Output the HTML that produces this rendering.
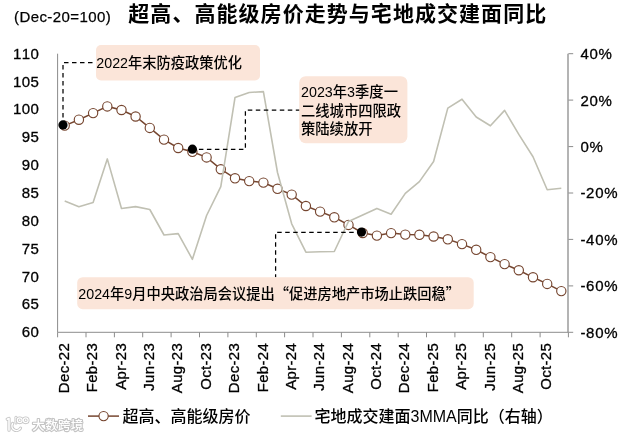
<!DOCTYPE html>
<html><head><meta charset="utf-8"><title>chart</title>
<style>html,body{margin:0;padding:0;background:#fff;}body{width:634px;height:438px;overflow:hidden;}svg{display:block;will-change:transform;}</style>
</head><body>
<svg width="634" height="438" viewBox="0 0 634 438">
<text x="14" y="21.9" font-family="'Liberation Sans', Arial, 'Noto Sans CJK SC', sans-serif" font-size="15" letter-spacing="0.42" fill="#000" stroke="#000" stroke-width="0.25">(Dec-20=100)</text>
<text x="128.3" y="21.1" font-family="'Liberation Sans', 'Noto Sans CJK SC', sans-serif" font-size="21" font-weight="bold" letter-spacing="1.05" fill="#000">超高、高能级房价走势与宅地成交建面同比</text>
<text x="39.2" y="58.6" text-anchor="end" font-family="'Liberation Sans', Arial, 'Noto Sans CJK SC', sans-serif" font-size="15" letter-spacing="0.4" style="font-kerning:none" fill="#000" stroke="#000" stroke-width="0.3">110</text>
<text x="39.2" y="86.5" text-anchor="end" font-family="'Liberation Sans', Arial, 'Noto Sans CJK SC', sans-serif" font-size="15" letter-spacing="0.4" style="font-kerning:none" fill="#000" stroke="#000" stroke-width="0.3">105</text>
<text x="39.2" y="114.3" text-anchor="end" font-family="'Liberation Sans', Arial, 'Noto Sans CJK SC', sans-serif" font-size="15" letter-spacing="0.4" style="font-kerning:none" fill="#000" stroke="#000" stroke-width="0.3">100</text>
<text x="39.2" y="142.2" text-anchor="end" font-family="'Liberation Sans', Arial, 'Noto Sans CJK SC', sans-serif" font-size="15" letter-spacing="0.4" style="font-kerning:none" fill="#000" stroke="#000" stroke-width="0.3">95</text>
<text x="39.2" y="170.0" text-anchor="end" font-family="'Liberation Sans', Arial, 'Noto Sans CJK SC', sans-serif" font-size="15" letter-spacing="0.4" style="font-kerning:none" fill="#000" stroke="#000" stroke-width="0.3">90</text>
<text x="39.2" y="197.9" text-anchor="end" font-family="'Liberation Sans', Arial, 'Noto Sans CJK SC', sans-serif" font-size="15" letter-spacing="0.4" style="font-kerning:none" fill="#000" stroke="#000" stroke-width="0.3">85</text>
<text x="39.2" y="225.8" text-anchor="end" font-family="'Liberation Sans', Arial, 'Noto Sans CJK SC', sans-serif" font-size="15" letter-spacing="0.4" style="font-kerning:none" fill="#000" stroke="#000" stroke-width="0.3">80</text>
<text x="39.2" y="253.6" text-anchor="end" font-family="'Liberation Sans', Arial, 'Noto Sans CJK SC', sans-serif" font-size="15" letter-spacing="0.4" style="font-kerning:none" fill="#000" stroke="#000" stroke-width="0.3">75</text>
<text x="39.2" y="281.5" text-anchor="end" font-family="'Liberation Sans', Arial, 'Noto Sans CJK SC', sans-serif" font-size="15" letter-spacing="0.4" style="font-kerning:none" fill="#000" stroke="#000" stroke-width="0.3">70</text>
<text x="39.2" y="309.3" text-anchor="end" font-family="'Liberation Sans', Arial, 'Noto Sans CJK SC', sans-serif" font-size="15" letter-spacing="0.4" style="font-kerning:none" fill="#000" stroke="#000" stroke-width="0.3">65</text>
<text x="39.2" y="337.2" text-anchor="end" font-family="'Liberation Sans', Arial, 'Noto Sans CJK SC', sans-serif" font-size="15" letter-spacing="0.4" style="font-kerning:none" fill="#000" stroke="#000" stroke-width="0.3">60</text>
<text x="580.4" y="59.1" font-family="'Liberation Sans', Arial, 'Noto Sans CJK SC', sans-serif" font-size="15" letter-spacing="0.7" fill="#000" stroke="#000" stroke-width="0.3">40%</text>
<text x="580.4" y="105.5" font-family="'Liberation Sans', Arial, 'Noto Sans CJK SC', sans-serif" font-size="15" letter-spacing="0.7" fill="#000" stroke="#000" stroke-width="0.3">20%</text>
<text x="580.4" y="152.0" font-family="'Liberation Sans', Arial, 'Noto Sans CJK SC', sans-serif" font-size="15" letter-spacing="0.7" fill="#000" stroke="#000" stroke-width="0.3">0%</text>
<text x="580.4" y="198.4" font-family="'Liberation Sans', Arial, 'Noto Sans CJK SC', sans-serif" font-size="15" letter-spacing="0.7" fill="#000" stroke="#000" stroke-width="0.3">-20%</text>
<text x="580.4" y="244.8" font-family="'Liberation Sans', Arial, 'Noto Sans CJK SC', sans-serif" font-size="15" letter-spacing="0.7" fill="#000" stroke="#000" stroke-width="0.3">-40%</text>
<text x="580.4" y="291.3" font-family="'Liberation Sans', Arial, 'Noto Sans CJK SC', sans-serif" font-size="15" letter-spacing="0.7" fill="#000" stroke="#000" stroke-width="0.3">-60%</text>
<text x="580.4" y="337.7" font-family="'Liberation Sans', Arial, 'Noto Sans CJK SC', sans-serif" font-size="15" letter-spacing="0.7" fill="#000" stroke="#000" stroke-width="0.3">-80%</text>
<g stroke="#8c8c8c" stroke-width="1" fill="none">
<path d="M57.6 53.7 V332.3 H568.4"/>
<path d="M568.0 53.7 V332.3" stroke-width="1.3"/>
<path d="M57.6 332.3 v5"/>
<path d="M86.0 332.3 v5"/>
<path d="M114.4 332.3 v5"/>
<path d="M142.7 332.3 v5"/>
<path d="M171.1 332.3 v5"/>
<path d="M199.5 332.3 v5"/>
<path d="M227.9 332.3 v5"/>
<path d="M256.3 332.3 v5"/>
<path d="M284.6 332.3 v5"/>
<path d="M313.0 332.3 v5"/>
<path d="M341.4 332.3 v5"/>
<path d="M369.8 332.3 v5"/>
<path d="M398.2 332.3 v5"/>
<path d="M426.5 332.3 v5"/>
<path d="M454.9 332.3 v5"/>
<path d="M483.3 332.3 v5"/>
<path d="M511.7 332.3 v5"/>
<path d="M540.1 332.3 v5"/>
<path d="M568.4 332.3 v5"/>
<path d="M568.4 53.7 h4.8"/>
<path d="M568.4 100.1 h4.8"/>
<path d="M568.4 146.6 h4.8"/>
<path d="M568.4 193.0 h4.8"/>
<path d="M568.4 239.4 h4.8"/>
<path d="M568.4 285.9 h4.8"/>
<path d="M568.4 332.3 h4.8"/>
</g>
<text transform="translate(68.8,342.9) rotate(-90)" text-anchor="end" font-family="'Liberation Sans', Arial, 'Noto Sans CJK SC', sans-serif" font-size="15" letter-spacing="0.32" fill="#000" stroke="#000" stroke-width="0.3">Dec-22</text>
<text transform="translate(97.2,342.9) rotate(-90)" text-anchor="end" font-family="'Liberation Sans', Arial, 'Noto Sans CJK SC', sans-serif" font-size="15" letter-spacing="0.32" fill="#000" stroke="#000" stroke-width="0.3">Feb-23</text>
<text transform="translate(125.6,342.9) rotate(-90)" text-anchor="end" font-family="'Liberation Sans', Arial, 'Noto Sans CJK SC', sans-serif" font-size="15" letter-spacing="0.32" fill="#000" stroke="#000" stroke-width="0.3">Apr-23</text>
<text transform="translate(153.9,342.9) rotate(-90)" text-anchor="end" font-family="'Liberation Sans', Arial, 'Noto Sans CJK SC', sans-serif" font-size="15" letter-spacing="0.32" fill="#000" stroke="#000" stroke-width="0.3">Jun-23</text>
<text transform="translate(182.3,342.9) rotate(-90)" text-anchor="end" font-family="'Liberation Sans', Arial, 'Noto Sans CJK SC', sans-serif" font-size="15" letter-spacing="0.32" fill="#000" stroke="#000" stroke-width="0.3">Aug-23</text>
<text transform="translate(210.7,342.9) rotate(-90)" text-anchor="end" font-family="'Liberation Sans', Arial, 'Noto Sans CJK SC', sans-serif" font-size="15" letter-spacing="0.32" fill="#000" stroke="#000" stroke-width="0.3">Oct-23</text>
<text transform="translate(239.1,342.9) rotate(-90)" text-anchor="end" font-family="'Liberation Sans', Arial, 'Noto Sans CJK SC', sans-serif" font-size="15" letter-spacing="0.32" fill="#000" stroke="#000" stroke-width="0.3">Dec-23</text>
<text transform="translate(267.5,342.9) rotate(-90)" text-anchor="end" font-family="'Liberation Sans', Arial, 'Noto Sans CJK SC', sans-serif" font-size="15" letter-spacing="0.32" fill="#000" stroke="#000" stroke-width="0.3">Feb-24</text>
<text transform="translate(295.8,342.9) rotate(-90)" text-anchor="end" font-family="'Liberation Sans', Arial, 'Noto Sans CJK SC', sans-serif" font-size="15" letter-spacing="0.32" fill="#000" stroke="#000" stroke-width="0.3">Apr-24</text>
<text transform="translate(324.2,342.9) rotate(-90)" text-anchor="end" font-family="'Liberation Sans', Arial, 'Noto Sans CJK SC', sans-serif" font-size="15" letter-spacing="0.32" fill="#000" stroke="#000" stroke-width="0.3">Jun-24</text>
<text transform="translate(352.6,342.9) rotate(-90)" text-anchor="end" font-family="'Liberation Sans', Arial, 'Noto Sans CJK SC', sans-serif" font-size="15" letter-spacing="0.32" fill="#000" stroke="#000" stroke-width="0.3">Aug-24</text>
<text transform="translate(381.0,342.9) rotate(-90)" text-anchor="end" font-family="'Liberation Sans', Arial, 'Noto Sans CJK SC', sans-serif" font-size="15" letter-spacing="0.32" fill="#000" stroke="#000" stroke-width="0.3">Oct-24</text>
<text transform="translate(409.4,342.9) rotate(-90)" text-anchor="end" font-family="'Liberation Sans', Arial, 'Noto Sans CJK SC', sans-serif" font-size="15" letter-spacing="0.32" fill="#000" stroke="#000" stroke-width="0.3">Dec-24</text>
<text transform="translate(437.7,342.9) rotate(-90)" text-anchor="end" font-family="'Liberation Sans', Arial, 'Noto Sans CJK SC', sans-serif" font-size="15" letter-spacing="0.32" fill="#000" stroke="#000" stroke-width="0.3">Feb-25</text>
<text transform="translate(466.1,342.9) rotate(-90)" text-anchor="end" font-family="'Liberation Sans', Arial, 'Noto Sans CJK SC', sans-serif" font-size="15" letter-spacing="0.32" fill="#000" stroke="#000" stroke-width="0.3">Apr-25</text>
<text transform="translate(494.5,342.9) rotate(-90)" text-anchor="end" font-family="'Liberation Sans', Arial, 'Noto Sans CJK SC', sans-serif" font-size="15" letter-spacing="0.32" fill="#000" stroke="#000" stroke-width="0.3">Jun-25</text>
<text transform="translate(522.9,342.9) rotate(-90)" text-anchor="end" font-family="'Liberation Sans', Arial, 'Noto Sans CJK SC', sans-serif" font-size="15" letter-spacing="0.32" fill="#000" stroke="#000" stroke-width="0.3">Aug-25</text>
<text transform="translate(551.3,342.9) rotate(-90)" text-anchor="end" font-family="'Liberation Sans', Arial, 'Noto Sans CJK SC', sans-serif" font-size="15" letter-spacing="0.32" fill="#000" stroke="#000" stroke-width="0.3">Oct-25</text>
<polyline points="64.7,125.6 78.9,119.7 93.1,113.1 107.3,106.4 121.5,110.0 135.6,116.5 149.8,127.9 164.0,139.6 178.2,148.0 192.4,151.8 206.6,157.4 220.8,169.2 235.0,178.3 249.2,181.1 263.4,182.6 277.5,188.8 291.7,194.6 305.9,206.0 320.1,211.6 334.3,217.3 348.5,224.9 362.7,233.0 376.9,235.6 391.1,233.1 405.3,234.6 419.4,234.8 433.6,236.5 447.8,239.3 462.0,244.1 476.2,249.8 490.4,257.1 504.6,264.1 518.8,270.3 533.0,277.3 547.2,283.9 561.3,291.1" fill="none" stroke="#764630" stroke-width="1.5"/>
<circle cx="64.7" cy="125.6" r="4.65" fill="#fff" stroke="#764630" stroke-width="1.15"/>
<circle cx="78.9" cy="119.7" r="4.65" fill="#fff" stroke="#764630" stroke-width="1.15"/>
<circle cx="93.1" cy="113.1" r="4.65" fill="#fff" stroke="#764630" stroke-width="1.15"/>
<circle cx="107.3" cy="106.4" r="4.65" fill="#fff" stroke="#764630" stroke-width="1.15"/>
<circle cx="121.5" cy="110.0" r="4.65" fill="#fff" stroke="#764630" stroke-width="1.15"/>
<circle cx="135.6" cy="116.5" r="4.65" fill="#fff" stroke="#764630" stroke-width="1.15"/>
<circle cx="149.8" cy="127.9" r="4.65" fill="#fff" stroke="#764630" stroke-width="1.15"/>
<circle cx="164.0" cy="139.6" r="4.65" fill="#fff" stroke="#764630" stroke-width="1.15"/>
<circle cx="178.2" cy="148.0" r="4.65" fill="#fff" stroke="#764630" stroke-width="1.15"/>
<circle cx="192.4" cy="151.8" r="4.65" fill="#fff" stroke="#764630" stroke-width="1.15"/>
<circle cx="206.6" cy="157.4" r="4.65" fill="#fff" stroke="#764630" stroke-width="1.15"/>
<circle cx="220.8" cy="169.2" r="4.65" fill="#fff" stroke="#764630" stroke-width="1.15"/>
<circle cx="235.0" cy="178.3" r="4.65" fill="#fff" stroke="#764630" stroke-width="1.15"/>
<circle cx="249.2" cy="181.1" r="4.65" fill="#fff" stroke="#764630" stroke-width="1.15"/>
<circle cx="263.4" cy="182.6" r="4.65" fill="#fff" stroke="#764630" stroke-width="1.15"/>
<circle cx="277.5" cy="188.8" r="4.65" fill="#fff" stroke="#764630" stroke-width="1.15"/>
<circle cx="291.7" cy="194.6" r="4.65" fill="#fff" stroke="#764630" stroke-width="1.15"/>
<circle cx="305.9" cy="206.0" r="4.65" fill="#fff" stroke="#764630" stroke-width="1.15"/>
<circle cx="320.1" cy="211.6" r="4.65" fill="#fff" stroke="#764630" stroke-width="1.15"/>
<circle cx="334.3" cy="217.3" r="4.65" fill="#fff" stroke="#764630" stroke-width="1.15"/>
<circle cx="348.5" cy="224.9" r="4.65" fill="#fff" stroke="#764630" stroke-width="1.15"/>
<circle cx="362.7" cy="233.0" r="4.65" fill="#fff" stroke="#764630" stroke-width="1.15"/>
<circle cx="376.9" cy="235.6" r="4.65" fill="#fff" stroke="#764630" stroke-width="1.15"/>
<circle cx="391.1" cy="233.1" r="4.65" fill="#fff" stroke="#764630" stroke-width="1.15"/>
<circle cx="405.3" cy="234.6" r="4.65" fill="#fff" stroke="#764630" stroke-width="1.15"/>
<circle cx="419.4" cy="234.8" r="4.65" fill="#fff" stroke="#764630" stroke-width="1.15"/>
<circle cx="433.6" cy="236.5" r="4.65" fill="#fff" stroke="#764630" stroke-width="1.15"/>
<circle cx="447.8" cy="239.3" r="4.65" fill="#fff" stroke="#764630" stroke-width="1.15"/>
<circle cx="462.0" cy="244.1" r="4.65" fill="#fff" stroke="#764630" stroke-width="1.15"/>
<circle cx="476.2" cy="249.8" r="4.65" fill="#fff" stroke="#764630" stroke-width="1.15"/>
<circle cx="490.4" cy="257.1" r="4.65" fill="#fff" stroke="#764630" stroke-width="1.15"/>
<circle cx="504.6" cy="264.1" r="4.65" fill="#fff" stroke="#764630" stroke-width="1.15"/>
<circle cx="518.8" cy="270.3" r="4.65" fill="#fff" stroke="#764630" stroke-width="1.15"/>
<circle cx="533.0" cy="277.3" r="4.65" fill="#fff" stroke="#764630" stroke-width="1.15"/>
<circle cx="547.2" cy="283.9" r="4.65" fill="#fff" stroke="#764630" stroke-width="1.15"/>
<circle cx="561.3" cy="291.1" r="4.65" fill="#fff" stroke="#764630" stroke-width="1.15"/>
<polyline points="64.7,201.0 78.9,206.8 93.1,202.4 107.3,158.9 121.5,208.5 135.6,206.6 149.8,209.5 164.0,235.0 178.2,233.6 192.4,259.3 206.6,215.5 220.8,186.6 235.0,97.6 249.2,92.5 263.4,91.6 277.5,172.5 291.7,223.8 305.9,252.2 320.1,251.8 334.3,251.5 348.5,221.5 362.7,215.0 376.9,208.4 391.1,214.3 405.3,193.4 419.4,181.6 433.6,161.5 447.8,108.1 462.0,99.2 476.2,117.0 490.4,125.8 504.6,110.4 518.8,134.4 533.0,156.8 547.2,189.8 561.3,188.2" fill="none" stroke="#c0c0b3" stroke-width="1.6" stroke-linejoin="round"/>
<g stroke="#000" stroke-width="1.25" fill="none" stroke-dasharray="4.5 3.5">
<path d="M92.5 62.5 H63 V124"/>
<path d="M300.3 110.2 H245.4 V149.3 H192.4"/>
<path d="M361.7 232.4 H275.6 V277.3"/>
</g>
<rect x="96" y="45" width="164" height="35.5" rx="5" fill="#fbe5d9"/>
<rect x="299.2" y="76.2" width="108.2" height="67" rx="6.5" fill="#fbe5d9"/>
<rect x="77.2" y="277.2" width="396.5" height="32" rx="5.5" fill="#fbe5d9"/>
<circle cx="63.0" cy="124.9" r="4.6" fill="#000"/>
<circle cx="192.4" cy="149.2" r="4.6" fill="#000"/>
<circle cx="361.5" cy="232.1" r="4.6" fill="#000"/>
<text x="96.3" y="67.6" font-family="'Liberation Sans', 'Noto Sans CJK SC', sans-serif" font-size="14.25" font-weight="500" fill="#000">2022年末防疫政策优化</text>
<g font-family="'Liberation Sans', 'Noto Sans CJK SC', sans-serif" font-size="14.3" font-weight="500" fill="#000">
<text x="301" y="96.6">2023年3季度一</text>
<text x="301" y="115.5">二线城市四限政</text>
<text x="301" y="134.1">策陆续放开</text>
</g>
<text x="78.3" y="299.2" font-family="'Liberation Sans', 'Noto Sans CJK SC', sans-serif" font-size="14.25" font-weight="500" fill="#000">2024年9月中央政治局会议提出<tspan font-family="'Noto Sans CJK SC', sans-serif">“</tspan>促进房地产市场止跌回稳<tspan font-family="'Noto Sans CJK SC', sans-serif">”</tspan></text>
<path d="M88 416.1 H119" stroke="#764630" stroke-width="1.5"/>
<circle cx="103.6" cy="416.1" r="4.65" fill="#fff" stroke="#764630" stroke-width="1.15"/>
<text x="122.4" y="422" font-family="'Liberation Sans', 'Noto Sans CJK SC', sans-serif" font-size="16" font-weight="500" fill="#000">超高、高能级房价</text>
<path d="M280.8 416.1 H311.6" stroke="#c0c0b3" stroke-width="1.6"/>
<text x="314.5" y="422" font-family="'Liberation Sans', 'Noto Sans CJK SC', sans-serif" font-size="16" font-weight="500" fill="#000">宅地成交建面3MMA同比<tspan font-family="'Noto Sans CJK SC', sans-serif">（右轴）</tspan></text>
<defs><filter id="wmf" x="-20%" y="-40%" width="140%" height="180%"><feGaussianBlur stdDeviation="0.45"/></filter></defs>
<g filter="url(#wmf)" fill="#fff" stroke="#c4c4c4" stroke-width="2.2" stroke-linejoin="round" paint-order="stroke">
<text x="32.3" y="429.6" font-family="'Liberation Sans', 'Noto Sans CJK SC', sans-serif" font-size="12.4" font-weight="500" letter-spacing="0.45">大数跨境</text>
<path d="M7.2 419.2 L9 418.4 V430.2" fill="none" stroke-width="3.2" stroke-linecap="round"/>
<path d="M7.2 419.2 L9 418.4 V430.2" fill="none" stroke="#fff" stroke-width="1.5" stroke-linecap="round"/>
<path d="M12.6 423.5 A4.2 4.2 0 0 0 20.5 428.2" fill="none" stroke-width="3.2" stroke-linecap="round"/>
<path d="M12.6 423.5 A4.2 4.2 0 0 0 20.5 428.2" fill="none" stroke="#fff" stroke-width="1.5" stroke-linecap="round"/>
<path d="M16 417.2 V423" fill="none" stroke-width="3" stroke-linecap="round"/>
<path d="M16 417.2 V423" fill="none" stroke="#fff" stroke-width="1.3" stroke-linecap="round"/>
<circle cx="19.7" cy="420.3" r="2.4" fill="none" stroke-width="2.9"/>
<circle cx="25.7" cy="420.3" r="2.4" fill="none" stroke-width="2.9"/>
<circle cx="19.7" cy="420.3" r="2.4" fill="none" stroke="#fff" stroke-width="1.2"/>
<circle cx="25.7" cy="420.3" r="2.4" fill="none" stroke="#fff" stroke-width="1.2"/>
</g>
</svg>
</body></html>
